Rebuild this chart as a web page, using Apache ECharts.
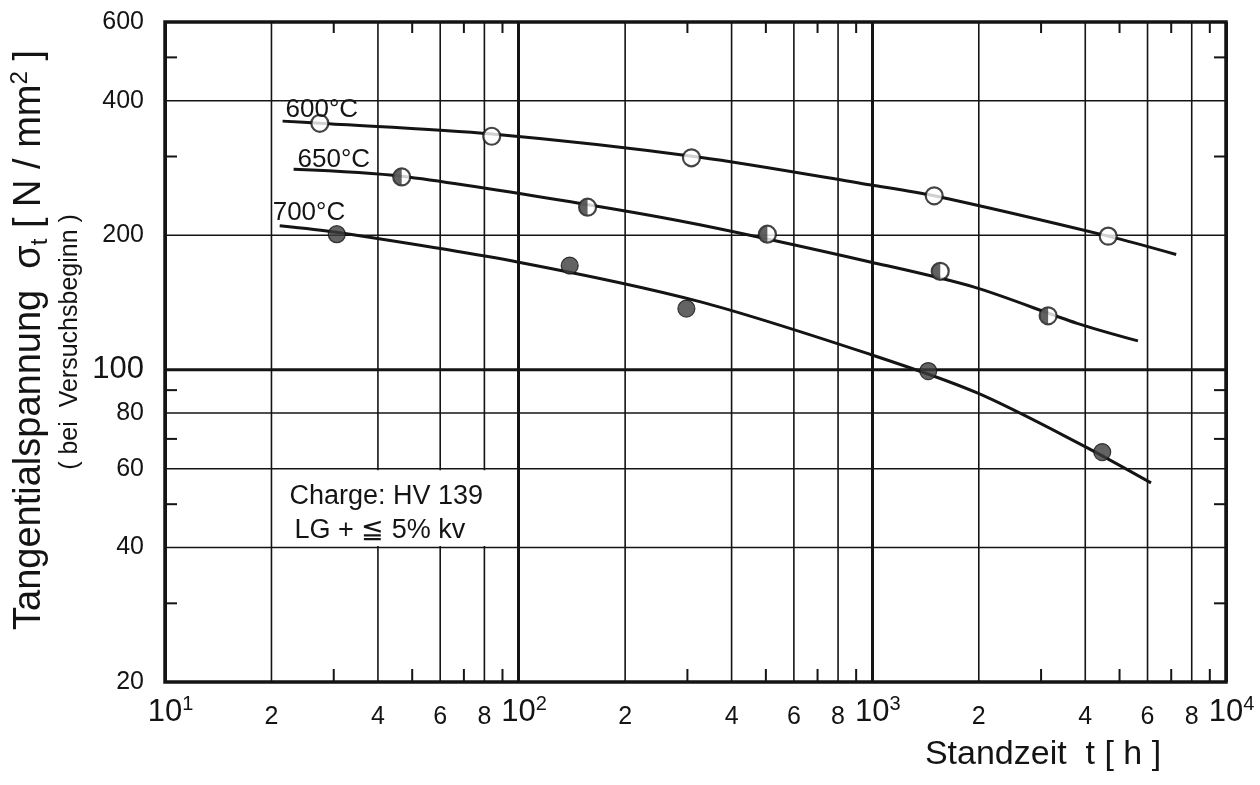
<!DOCTYPE html>
<html><head><meta charset="utf-8">
<script src="https://cdn.jsdelivr.net/npm/echarts@6/dist/echarts.min.js"></script>
<style>html,body{margin:0;padding:0;background:#fff}#c{width:1260px;height:785px}</style>
</head><body><div id="c"></div>
<script>
const FONT = "'Liberation Sans', Arial, sans-serif";
const INK = '#141414';

// ---- data ----
// fitted curves
const curve600T = [21.5, 27.4, 84, 325, 993, 1496, 4645, 7230];
const curve600S = [360, 356, 337, 299, 259, 245, 199, 181];
const curve650T = [23.1, 46.7, 157, 325, 993, 1941, 3793, 5636];
const curve650S = [281, 271, 234, 211, 174, 153, 127, 116];
const curve700T = [21.1, 30.6, 100, 325, 993, 1980, 3920, 6138];
const curve700S = [210, 203, 174, 142, 108, 88.7, 67.8, 55.8];
// measured points
const pts600T = [27.4, 83.9, 308, 1496, 4645];
const pts600S = [356, 333, 298, 245, 199];
const pts650T = [46.7, 156.6, 505, 1556, 3141];
const pts650S = [270, 231, 201, 166, 132];
const pts700T = [30.6, 139.4, 298, 1439, 4467];
const pts700S = [201, 171, 137, 99.3, 65.4];
const curveNames = ['600°C', '650°C', '700°C'];

// axes
const xMin = 10, xMax = 10000, yMin = 20, yMax = 600;
const xFullGrid = [20, 40, 60, 80, 200, 400, 600, 800, 2000, 4000, 6000, 8000];
const xShortTicks = [30, 50, 70, 90, 300, 500, 700, 900, 3000, 5000, 7000, 9000];
const yFullGrid = [400, 200, 80, 60, 40];
const yThickGrid = [100];
const yShortTicks = [500, 300, 90, 70, 50, 30];
const yTickLabels = [600, 400, 200, 100, 80, 60, 40, 20];
const infoLines = ['Charge: HV 139', 'LG + ≦ 5% kv'];

(function () {
const zip = (a, b) => a.map((v, i) => [v, b[i]]);

const chart = echarts.init(document.getElementById('c'), null, {renderer: 'canvas'});

const halfPath = 'path://M10,0 A10,10 0 0,0 10,20 Z';
const MS = 17;

const option = {
  animation: false,
  backgroundColor: '#fff',
  grid: {left: 165, right: 34, top: 22, bottom: 103, show: true, borderColor: INK, borderWidth: 3.5, backgroundColor: 'transparent'},
  xAxis: {
    type: 'log', logBase: 10, min: xMin, max: xMax,
    axisLine: {show: false}, axisTick: {show: false},
    splitLine: {show: true, lineStyle: {color: INK, width: 3}},
    axisLabel: {
      margin: 12,
      formatter: v => '{sp|}{b|10}{s|' + Math.round(Math.log10(v)) + '}',
      rich: {
        sp: {width: 11, fontSize: 20},
        b: {fontSize: 31, fontFamily: FONT, color: INK, lineHeight: 34, verticalAlign: 'bottom'},
        s: {fontSize: 20, fontFamily: FONT, color: INK, lineHeight: 20, verticalAlign: 'top'}
      }
    }
  },
  yAxis: {
    type: 'log', logBase: 10, min: yMin, max: yMax,
    axisLine: {show: false}, axisTick: {show: false},
    splitLine: {show: false}, axisLabel: {show: false}
  },
  series: [
    {type: 'line', data: zip(curve600T, curve600S), smooth: 0.3, symbol: 'none', lineStyle: {color: INK, width: 3}, z: 3},
    {type: 'line', data: zip(curve650T, curve650S), smooth: 0.3, symbol: 'none', lineStyle: {color: INK, width: 3}, z: 3},
    {type: 'line', data: zip(curve700T, curve700S), smooth: 0.3, symbol: 'none', lineStyle: {color: INK, width: 3}, z: 3},
    {type: 'scatter', data: zip(pts600T, pts600S), symbol: 'circle', symbolSize: MS,
     itemStyle: {color: '#fff', borderColor: INK, borderWidth: 2.2}, z: 5},
    {type: 'scatter', data: zip(pts650T, pts650S), symbol: 'circle', symbolSize: MS,
     itemStyle: {color: '#fff', borderColor: INK, borderWidth: 2.2}, z: 5},
    {type: 'scatter', data: zip(pts650T, pts650S), symbol: halfPath, symbolSize: [MS / 2, MS], symbolOffset: [-MS / 4, 0],
     itemStyle: {color: '#3a3a3a'}, z: 6},
    {type: 'scatter', data: zip(pts700T, pts700S), symbol: 'circle', symbolSize: MS,
     itemStyle: {color: '#3c3c3c', borderColor: INK, borderWidth: 1.2}, z: 5}
  ]
};
chart.setOption(option);

function px(x, y) { return chart.convertToPixel({gridIndex: 0}, [x, y]); }
const gTop = px(xMin, yMax)[1], gBottom = px(xMin, yMin)[1];
const gLeft = px(xMin, yMin)[0], gRight = px(xMax, yMin)[0];

const g = [];
const line = (x1, y1, x2, y2, w, z) => g.push({type: 'line', z: z || 0, silent: true,
  shape: {x1, y1, x2, y2}, style: {stroke: INK, lineWidth: w}});
const text = (t, x, y, size, align, valign, extra) => g.push(Object.assign({type: 'text', z: 10, silent: true, x, y,
  style: {text: t, fontSize: size, fontFamily: FONT, fill: INK, align, verticalAlign: valign}}, extra || {}));

xFullGrid.forEach(v => { const X = px(v, yMin)[0]; line(X, gTop, X, gBottom, 1.6); });
xShortTicks.forEach(v => { const X = px(v, yMin)[0]; line(X, gBottom, X, gBottom - 13, 2); line(X, gTop, X, gTop + 11, 2); });
yFullGrid.forEach(v => { const Y = px(xMin, v)[1]; line(gLeft, Y, gRight, Y, 1.6); });
yThickGrid.forEach(v => { const Y = px(xMin, v)[1]; line(gLeft, Y, gRight, Y, 3); });
yShortTicks.forEach(v => { const Y = px(xMin, v)[1]; line(gLeft, Y, gLeft + 12, Y, 2); line(gRight - 12, Y, gRight, Y, 2); });

yTickLabels.forEach(v => { const Y = px(xMin, v)[1]; text(String(v), gLeft - 21, Y, v === 100 ? 31 : 25, 'right', 'middle'); });
xFullGrid.forEach(v => {
  const X = px(v, yMin)[0];
  const lead = Math.round(v / Math.pow(10, Math.floor(Math.log10(v) + 1e-9)));
  text(String(lead), X, gBottom + 35, 25, 'center', 'middle');
});

// info box
const bx1 = px(20, 60)[0] + 2, bx2 = px(100, 60)[0] - 3;
const by1 = px(20, 60)[1] + 1.5, by2 = px(20, 40)[1] - 1.5;
g.push({type: 'rect', z: 1, silent: true, shape: {x: bx1, y: by1, width: bx2 - bx1, height: by2 - by1}, style: {fill: '#fff'}});
text(infoLines[0], bx1 + 16, by1 + 26, 27, 'left', 'middle');
text(infoLines[1], bx1 + 21, by1 + 60, 27, 'left', 'middle');

// curve labels
const starts = [[curve600T[0], curve600S[0], 3, 2], [curve650T[0], curve650S[0], 4, 4], [curve700T[0], curve700S[0], -7, 0]];
starts.forEach((s, i) => { const p = px(s[0], s[1]); text(curveNames[i], p[0] + s[2], p[1] + s[3], 26, 'left', 'bottom'); });

// axis titles
g.push({type: 'text', z: 10, silent: true, x: 30, y: 340, rotation: Math.PI / 2,
  style: {text: '{a|Tangentialspannung  σ}{b|t}{a| [ N / mm}{c|2}{a| ]}', align: 'center', verticalAlign: 'middle',
    rich: {a: {fontSize: 38, fontFamily: FONT, fill: INK, lineHeight: 44, verticalAlign: 'middle'},
           b: {fontSize: 24, fontFamily: FONT, fill: INK, lineHeight: 24, verticalAlign: 'bottom'},
           c: {fontSize: 24, fontFamily: FONT, fill: INK, lineHeight: 24, verticalAlign: 'top'}}}});
g.push({type: 'text', z: 10, silent: true, x: 70, y: 342, rotation: Math.PI / 2,
  style: {text: '( bei  Versuchsbeginn )', fontSize: 25, fontFamily: FONT, fill: INK, align: 'center', verticalAlign: 'middle'}});
text('Standzeit  t [ h ]', 1043, 755, 34, 'center', 'middle');

chart.setOption({graphic: {elements: g}});
})();
</script></body></html>
